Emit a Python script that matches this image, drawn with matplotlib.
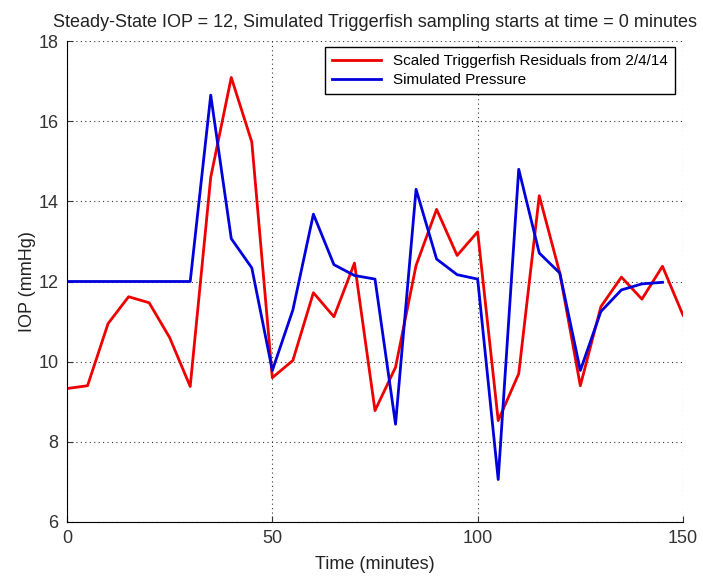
import matplotlib
matplotlib.use("Agg")
import matplotlib.pyplot as plt

time_red = [0, 5, 10, 15, 20, 25, 30, 35, 40, 45, 50, 55, 60, 65, 70, 75, 80, 85, 90, 95,
            100, 105, 110, 115, 120, 125, 130, 135, 140, 145, 150]
residuals = [9.33, 9.4, 10.95, 11.62, 11.47, 10.6, 9.38, 14.6, 17.09, 15.48, 9.6, 10.03,
             11.72, 11.12, 12.46, 8.78, 9.86, 12.4, 13.8, 12.65, 13.24, 8.53, 9.7, 14.14,
             12.21, 9.4, 11.37, 12.11, 11.56, 12.38, 11.16]

time_blue = [0, 5, 10, 15, 20, 25, 30, 35, 40, 45, 50, 55, 60, 65, 70, 75, 80, 85, 90, 95,
             100, 105, 110, 115, 120, 125, 130, 135, 140, 145]
simulated = [12, 12, 12, 12, 12, 12, 12, 16.65, 13.07, 12.34, 9.78, 11.29, 13.68, 12.42,
             12.15, 12.06, 8.44, 14.3, 12.56, 12.17, 12.06, 7.06, 14.8, 12.71, 12.21, 9.78,
             11.25, 11.79, 11.94, 11.98]

xticks = [0, 50, 100, 150]
yticks = [6, 8, 10, 12, 14, 16, 18]

plt.rcParams['font.family'] = ['Liberation Sans', 'DejaVu Sans']

fig = plt.figure(figsize=(7.03, 5.78), dpi=100)
ax = fig.add_axes([67/703, 1 - 522/578, (683-67)/703, (522-41)/578])

ax.plot(time_red, residuals, color='#ee0000', lw=2.0, label='Scaled Triggerfish Residuals from 2/4/14')
ax.plot(time_blue, simulated, color='#0000dd', lw=2.0, label='Simulated Pressure')

ax.set_xlim(0, 150)
ax.set_ylim(6, 18)
ax.set_xticks(xticks)
ax.set_yticks(yticks)
ax.grid(True, color='#333333', linestyle=(0, (1, 3)), linewidth=0.8)
ax.spines['top'].set_visible(False)
ax.spines['right'].set_visible(False)
ax.tick_params(direction='in', length=4, labelsize=13, colors='#333333', pad=6)

ax.set_xlabel('Time (minutes)', fontsize=13, labelpad=6, color='#222222')
ax.set_ylabel('IOP (mmHg)', fontsize=13, labelpad=2, color='#222222')
ax.set_title('Steady-State IOP = 12, Simulated Triggerfish sampling starts at time = 0 minutes',
             fontsize=13, pad=10, color='#222222')

leg = ax.legend(loc='upper right', bbox_to_anchor=(1 - 8/616, 1 - 6/481), borderaxespad=0,
                fontsize=11, fancybox=False, framealpha=1, edgecolor='black', handlelength=3.2,
                borderpad=0.45, labelspacing=0.35)
leg.get_frame().set_linewidth(1.0)

fig.savefig('out.png', dpi=100)
